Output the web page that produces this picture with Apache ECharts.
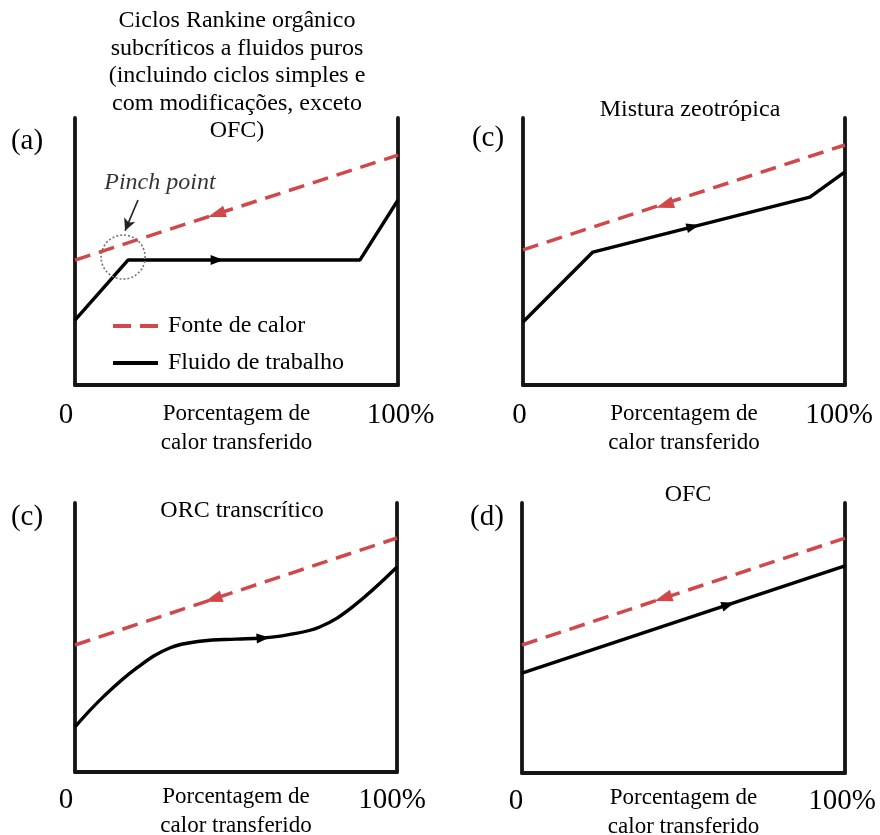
<!DOCTYPE html>
<html><head><meta charset="utf-8">
<script src="https://cdn.jsdelivr.net/npm/echarts@6/dist/echarts.min.js"></script>
<style>html,body{margin:0;padding:0;background:#fff}#c{width:880px;height:835px}</style>
</head><body><div id="c"></div>
<script>
// ---------- data ----------
const xTicks = ['0', '100%'];
const seriesNames = ['Fonte de calor', 'Fluido de trabalho'];
const panelTitles = [
  'Ciclos Rankine orgânico\nsubcríticos a fluidos puros\n(incluindo ciclos simples e\ncom modificações, exceto\nOFC)',
  'Mistura zeotrópica',
  'ORC transcrítico',
  'OFC'
];
const panelTags = ['(a)', '(c)', '(c)', '(d)'];
const xAxisName = 'Porcentagem de\ncalor transferido';
const pinchText = 'Pinch point';

// (a) subcritical pure fluid
const aHeatX = [0, 100], aHeatY = [46.8, 86.1];
const aFluidX = [0, 16.4, 88.2, 100], aFluidY = [24.3, 46.8, 46.8, 69.3];
const aHeatArrow = [43.8, 64.0], aFluidArrow = [44.0, 46.8];
const aPinchCircle = [14.9, 47.9];
const aPinchLabel = [26.3, 75.7];
const aPinchArrowFrom = [19.5, 69.3], aPinchArrowTo = [15.5, 57.8];
// (c) zeotropic mixture
const bHeatX = [0, 100], bHeatY = [50.6, 89.9];
const bFluidX = [0, 21.7, 89.1, 100], bFluidY = [23.6, 49.8, 70.4, 79.8];
const bHeatArrow = [44.0, 67.4], bFluidArrow = [52.8, 59.3];
// (c) transcritical ORC
const cHeatX = [0, 100], cHeatY = [47.2, 87.0];
const cFluidX = [0, 9.0, 19.2, 29.4, 39.6, 50.0, 58.0, 66.0, 76.0, 86.1, 100];
const cFluidY = [16.8, 28.2, 38.7, 46.1, 48.7, 49.4, 49.8, 51.0, 53.9, 61.3, 76.2];
const cHeatArrow = [42.9, 64.3], cFluidArrow = [58.4, 49.8];
// (d) OFC
const dHeatX = [0, 100], dHeatY = [47.4, 87.0];
const dFluidX = [0, 100], dFluidY = [37.0, 76.7];
const dHeatArrow = [43.7, 64.7], dFluidArrow = [63.8, 62.3];

// ---------- styling ----------
const SERIF = '"Liberation Serif","Times New Roman",serif';
const RED = '#d2474a';
const AX = '#151515';
const zip = (xs, ys) => xs.map((x, i) => [x, ys[i]]);

const grids = [
  { left: 75, top: 118, width: 323, height: 267 },
  { left: 523, top: 118, width: 322, height: 267 },
  { left: 75, top: 503, width: 322, height: 269 },
  { left: 522, top: 503, width: 323, height: 270 }
];
const labelPads = [ [18, 5, 0], [7, 0, 12], [18, 0, 10], [12, 0, 6] ]; // [0 right pad, 100% left pad, 100% right pad]
const labelMargins = [16, 16, 14, 14];
const nameGaps = [14, 14, 10, 10];

const xAxes = grids.map((g, i) => ({
  gridIndex: i, type: 'value', min: 0, max: 100, interval: 100,
  axisLine: { show: true, onZero: false, lineStyle: { color: AX, width: 3.8 } },
  axisTick: { show: false }, splitLine: { show: false },
  axisLabel: {
    show: true, showMinLabel: true, showMaxLabel: true, margin: labelMargins[i],
    fontFamily: SERIF, fontSize: 29, color: '#000',
    formatter: v => v === 0 ? '{l|' + xTicks[0] + '}' : '{r|' + xTicks[1] + '}',
    rich: {
      l: { fontFamily: SERIF, fontSize: 29, color: '#000', padding: [0, labelPads[i][0], 0, 0] },
      r: { fontFamily: SERIF, fontSize: 29, color: '#000', padding: [0, labelPads[i][2], 0, labelPads[i][1]] }
    }
  },
  name: xAxisName, nameLocation: 'middle', nameGap: nameGaps[i], nameMoveOverlap: false,
  nameTextStyle: { fontFamily: SERIF, fontSize: 23, lineHeight: 29, color: '#000' }
}));
const yAxes = [];
grids.forEach((g, i) => {
  ['left', 'right'].forEach(pos => yAxes.push({
    gridIndex: i, type: 'value', min: 0, max: 100, position: pos,
    axisLine: { show: true, onZero: false, lineStyle: { color: AX, width: 3.8 } },
    axisTick: { show: false }, axisLabel: { show: false }, splitLine: { show: false }
  }));
});

const panels = [
  { heat: zip(aHeatX, aHeatY), fluid: zip(aFluidX, aFluidY), ha: aHeatArrow, fa: aFluidArrow, hr: 108, fr: -90, smooth: false },
  { heat: zip(bHeatX, bHeatY), fluid: zip(bFluidX, bFluidY), ha: bHeatArrow, fa: bFluidArrow, hr: 108, fr: -76, smooth: false },
  { heat: zip(cHeatX, cHeatY), fluid: zip(cFluidX, cFluidY), ha: cHeatArrow, fa: cFluidArrow, hr: 108, fr: -86, smooth: 0.4 },
  { heat: zip(dHeatX, dHeatY), fluid: zip(dFluidX, dFluidY), ha: dHeatArrow, fa: dFluidArrow, hr: 108, fr: -72, smooth: false }
];

const series = [];
panels.forEach((p, i) => {
  series.push({
    name: seriesNames[0], type: 'line', xAxisIndex: i, yAxisIndex: 2 * i,
    data: p.heat, symbol: 'none', showSymbol: false, silent: true, z: 3,
    lineStyle: { color: RED, width: 3.5, type: [16, 9] }, itemStyle: { color: RED }
  });
  series.push({
    name: seriesNames[1], type: 'line', xAxisIndex: i, yAxisIndex: 2 * i,
    data: p.fluid, symbol: 'none', showSymbol: false, silent: true, smooth: p.smooth, z: 3,
    lineStyle: { color: '#000', width: 3.4 }, itemStyle: { color: '#000' }
  });
  series.push({
    name: 'arrows' + i, type: 'scatter', xAxisIndex: i, yAxisIndex: 2 * i, silent: true, z: 4,
    symbol: 'triangle',
    data: [
      { value: p.ha, symbolRotate: p.hr, symbolSize: [12, 18], itemStyle: { color: RED, opacity: 1 } },
      { value: p.fa, symbolRotate: p.fr, symbolSize: [10, 13], itemStyle: { color: '#000', opacity: 1 } }
    ]
  });
});

// pinch point annotation (panel a)
series.push({
  name: 'pinch', type: 'scatter', xAxisIndex: 0, yAxisIndex: 0, silent: true, z: 5,
  symbol: 'circle', symbolSize: 44,
  itemStyle: { color: 'rgba(0,0,0,0)', borderColor: '#777', borderWidth: 1.6, borderType: [2, 2], opacity: 1 },
  data: [aPinchCircle],
  markLine: {
    silent: true, symbol: ['none', 'arrow'], symbolSize: [9, 12],
    lineStyle: { color: '#222', width: 1.6, type: 'solid' },
    label: { show: false },
    data: [[{ coord: aPinchArrowFrom }, { coord: aPinchArrowTo }]]
  }
});
series.push({
  name: 'pinchLabel', type: 'scatter', xAxisIndex: 0, yAxisIndex: 0, silent: true, z: 5,
  symbolSize: 1, itemStyle: { color: 'rgba(0,0,0,0)' },
  label: { show: true, position: 'inside', formatter: pinchText,
    fontFamily: SERIF, fontStyle: 'italic', fontSize: 24, color: '#000', textBorderWidth: 0 },
  data: [aPinchLabel]
});

const textPos = [
  { title: [237, 76], tag: [27, 141] },
  { title: [690, 110], tag: [488, 138] },
  { title: [242, 511], tag: [27, 517] },
  { title: [688, 495], tag: [487, 517] }
];
const graphic = [];
textPos.forEach((t, i) => {
  graphic.push({ type: 'text', x: t.title[0], y: t.title[1], silent: true,
    style: { text: panelTitles[i], align: 'center', verticalAlign: 'middle', lineHeight: 27.5,
      font: '24px ' + SERIF, fill: '#000' } });
  graphic.push({ type: 'text', x: t.tag[0], y: t.tag[1], silent: true,
    style: { text: panelTags[i], align: 'center', verticalAlign: 'middle',
      font: '29px ' + SERIF, fill: '#000' } });
});

const chart = echarts.init(document.getElementById('c'), null, { renderer: 'canvas' });
chart.setOption({
  backgroundColor: '#fff',
  animation: false,
  grid: grids.map(g => Object.assign({ containLabel: false, outerBoundsMode: 'none' }, g)),
  xAxis: xAxes,
  yAxis: yAxes,
  legend: {
    data: [
      { name: seriesNames[0], icon: 'path://M0 0H18V4H0Z M27 0H45V4H27Z' },
      { name: seriesNames[1], icon: 'path://M0 0H45V4H0Z' }
    ],
    orient: 'vertical', left: 108, top: 309,
    itemWidth: 45, itemHeight: 4, itemGap: 13, selectedMode: false,
    textStyle: { fontFamily: SERIF, fontSize: 24, lineHeight: 24, color: '#000', padding: [0, 0, 0, 5] }
  },
  graphic: graphic,
  series: series
});
</script>
</body></html>
